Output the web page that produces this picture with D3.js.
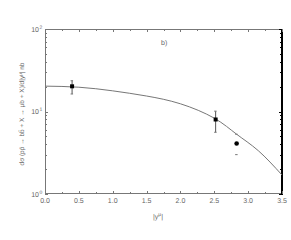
<!DOCTYPE html>
<html><head><meta charset="utf-8">
<script src="https://cdn.jsdelivr.net/npm/d3@7"></script>
<style>body{margin:0;background:#fff}svg{display:block}</style>
</head><body>
<script>
const xTicks = [0, 0.5, 1.0, 1.5, 2.0, 2.5, 3.0, 3.5];
const xTickLabels = ["0.0","0.5","1.0","1.5","2.0","2.5","3.0","3.5"];
const yTicks = [1, 10, 100];
const yTickExp = ["0","1","2"];
const curveX = [0, 0.5, 1.0, 1.5, 2.0, 2.5, 2.83, 3.15, 3.5];
const curveY = [20.3, 19.7, 17.8, 15.4, 12.4, 8.3, 5.3, 3.35, 1.7];
const ptX = [0.4, 2.52, 2.83];
const ptY = [20.2, 8.0, 4.1];
const ptHi = [23.6, 10.1, 5.3];
const ptLo = [16.3, 5.6, 3.0];
const ptFullBar = [true, true, false];

const W = 291, H = 240;
const FONT = "'Liberation Sans', Arial, sans-serif";
const TXT = "#666";
const svg = d3.select("body").append("svg").attr("width", W).attr("height", H)
  .attr("text-rendering","geometricPrecision");
const x = d3.scaleLinear().domain([0, 3.5]).range([45, 282]);
const y = d3.scaleLog().domain([1, 100]).range([194, 29]);
const axCol = "#777";

svg.append("line").attr("x1",45).attr("x2",282).attr("y1",29.5).attr("y2",29.5).attr("stroke",axCol);
svg.append("line").attr("x1",45).attr("x2",282).attr("y1",193.5).attr("y2",193.5).attr("stroke",axCol);
svg.append("line").attr("x1",45.5).attr("x2",45.5).attr("y1",29).attr("y2",194).attr("stroke",axCol);
svg.append("line").attr("x1",282).attr("x2",282).attr("y1",29).attr("y2",195).attr("stroke","#000").attr("stroke-width",2);

const xMinor = d3.range(0, 3.51, 0.25);
xMinor.forEach(v => {
  const major = Math.abs(v*2 - Math.round(v*2)) < 1e-6;
  const len = major ? 3 : 2;
  const px = Math.round(x(v)) + 0.5;
  svg.append("line").attr("x1",px).attr("x2",px).attr("y1",194).attr("y2",194-len).attr("stroke",axCol);
  svg.append("line").attr("x1",px).attr("x2",px).attr("y1",29).attr("y2",29+len).attr("stroke",axCol);
});
svg.selectAll(".xl").data(xTicks).enter().append("text")
  .attr("x", d => x(d)).attr("y", 203).attr("text-anchor","middle")
  .attr("font-family",FONT).attr("fill",TXT)
  .attr("font-size", 7).text((d,i) => xTickLabels[i]);

const yMinor = [];
[1,10].forEach(dec => { for (let k=1;k<=10;k++) yMinor.push(dec*k); });
yMinor.forEach(v => {
  const major = yTicks.includes(v);
  const len = major ? 3 : 2;
  const py = Math.round(y(v)) + 0.5;
  svg.append("line").attr("x1",45).attr("x2",45+len).attr("y1",py).attr("y2",py).attr("stroke",axCol);
  svg.append("line").attr("x1",282).attr("x2",282-len).attr("y1",py).attr("y2",py).attr("stroke","#000");
});
yTicks.forEach((v,i) => {
  svg.append("text").attr("x", 39).attr("y", y(v)+2.5).attr("text-anchor","end")
    .attr("font-family",FONT).attr("fill",TXT).attr("font-size",7).text("10");
  svg.append("text").attr("x", 39.5).attr("y", y(v)-0.5)
    .attr("font-family",FONT).attr("fill",TXT).attr("font-size",5).text(yTickExp[i]);
});

const line = d3.line().x(d => x(d[0])).y(d => y(d[1])).curve(d3.curveNatural);
svg.append("path").datum(curveX.map((v,i)=>[v,curveY[i]]))
  .attr("d", line).attr("fill","none").attr("stroke","#777").attr("stroke-width",1);

ptX.forEach((v,i) => {
  const cx = x(v);
  if (ptFullBar[i]) {
    svg.append("line").attr("x1",cx).attr("x2",cx).attr("y1",y(ptHi[i])).attr("y2",y(ptLo[i])).attr("stroke","#555");
  }
  svg.append("line").attr("x1",cx-1.5).attr("x2",cx+1).attr("y1",y(ptHi[i])).attr("y2",y(ptHi[i])).attr("stroke","#777");
  svg.append("line").attr("x1",cx-1.5).attr("x2",cx+1).attr("y1",y(ptLo[i])).attr("y2",y(ptLo[i])).attr("stroke","#777");
  if (i < 2) {
    svg.append("rect").attr("x",cx-2).attr("y",y(ptY[i])-2).attr("width",4).attr("height",4).attr("fill","#000");
  } else {
    svg.append("circle").attr("cx",cx).attr("cy",y(ptY[i])).attr("r",2.3).attr("fill","#000");
  }
});

svg.append("text").attr("x",161).attr("y",45).attr("font-size",7).attr("font-family",FONT).attr("fill",TXT).text("b)");
const xl = svg.append("text").attr("x",153).attr("y",219).attr("font-size",7).attr("font-family",FONT).attr("fill",TXT);
xl.append("tspan").text("|y");
xl.append("tspan").attr("font-size",5).attr("dy",-3).text("μ");
xl.append("tspan").attr("dy",3).text("|");
const yl = svg.append("text").attr("transform","translate(24,114) rotate(-90)").attr("text-anchor","middle")
  .attr("font-size",6.5).attr("font-family",FONT).attr("fill",TXT);
yl.append("tspan").text("dσ (pp̄ → bb̄ + X → μb + X)/d|y");
yl.append("tspan").attr("font-size",4.5).attr("dy",-2.5).text("μ");
yl.append("tspan").attr("dy",2.5).text("| nb");
</script>
</body></html>
